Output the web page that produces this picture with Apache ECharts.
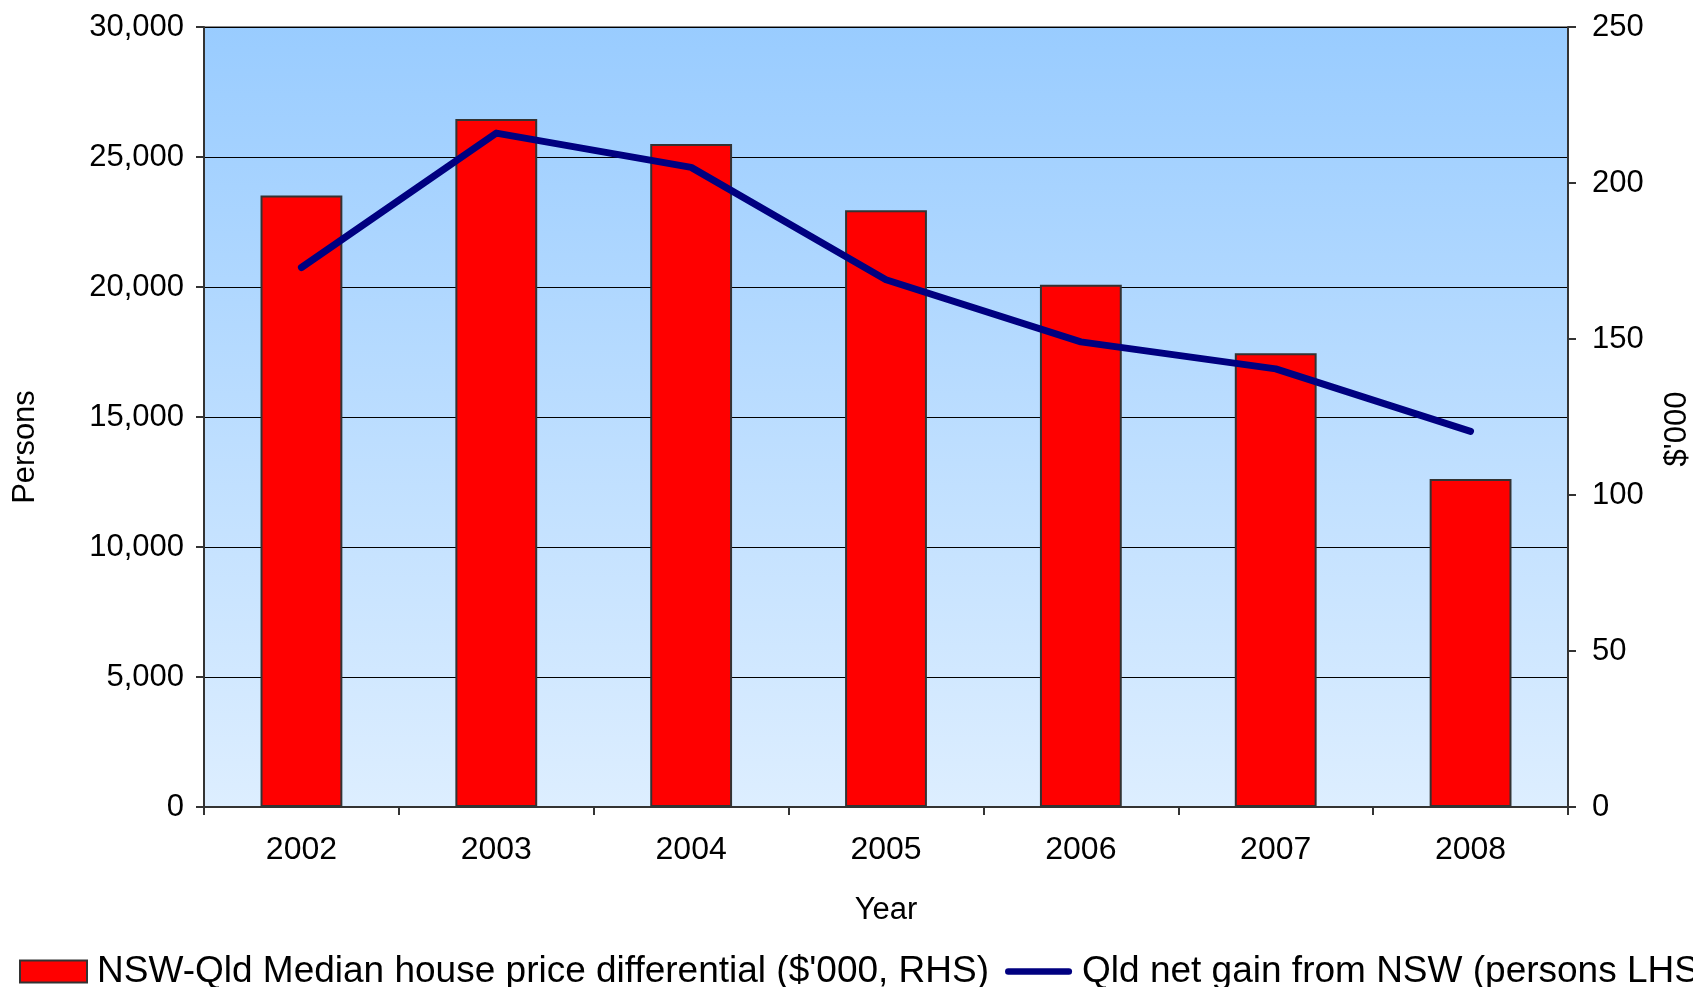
<!DOCTYPE html>
<html>
<head>
<meta charset="utf-8">
<script src="https://cdn.jsdelivr.net/npm/echarts@6/dist/echarts.min.js"></script>
<style>
  html, body { margin: 0; padding: 0; background: #fff; }
  #main { width: 1693px; height: 987px; }
</style>
</head>
<body>
<div id="main"></div>
<script>
// categories and values
const years = ['2002', '2003', '2004', '2005', '2006', '2007', '2008'];
// NSW-Qld median house price differential, $'000 (right axis)
const priceDiff = [196, 220.5, 212.5, 191.3, 167.4, 145.4, 105.1];
// Qld net gain from NSW, persons (left axis)
const netGain = [20750, 25920, 24600, 20280, 17890, 16850, 14450];

const chartDom = document.getElementById('main');
const myChart = echarts.init(chartDom);

const font = 'Liberation Sans, Arial, sans-serif';

const option = {
  animation: false,
  textStyle: { fontFamily: font },
  grid: {
    left: 204, right: 125, top: 27, bottom: 180,
    outerBoundsMode: 'none',
    containLabel: false,
    show: true,
    borderColor: '#8a8a8a',
    borderWidth: 2,
    backgroundColor: new echarts.graphic.LinearGradient(0, 0, 0, 1, [
      { offset: 0, color: '#99ccff' },
      { offset: 1, color: '#ddeeff' }
    ])
  },
  legend: {
    left: 14,
    top: 948,
    width: 3000,
    itemWidth: 67,
    itemHeight: 22,
    itemGap: 16,
    textStyle: { fontSize: 37, color: '#000', fontFamily: font, padding: [0, 0, 0, 5] },
    data: [
      { name: "NSW-Qld Median house price differential ($'000, RHS)", icon: 'rect' },
      {
        name: 'Qld net gain from NSW (persons LHS)',
        icon: 'path://M3.5,0 L69.5,0 A3.5,3.5 0 0 1 69.5,7 L3.5,7 A3.5,3.5 0 0 1 3.5,0 Z',
        itemStyle: { color: '#000080', borderWidth: 0 }
      }
    ]
  },
  xAxis: {
    type: 'category',
    data: years,
    name: 'Year',
    nameLocation: 'middle',
    nameGap: 88,
    nameTextStyle: { fontSize: 31, color: '#000' },
    axisLine: { lineStyle: { color: '#333', width: 2 } },
    axisTick: { show: true, length: 8, lineStyle: { color: '#333', width: 2 } },
    axisLabel: { fontSize: 32, color: '#000', margin: 27 }
  },
  yAxis: [
    {
      type: 'value',
      min: 0, max: 30000, interval: 5000,
      name: 'Persons',
      nameLocation: 'middle',
      nameGap: 163,
      nameTextStyle: { fontSize: 31, color: '#000', padding: [0, 60, 0, 0] },
      axisLine: { show: true, lineStyle: { color: '#333', width: 2 } },
      axisTick: { show: true, length: 8, lineStyle: { color: '#333', width: 2 } },
      axisLabel: {
        fontSize: 31, color: '#000', margin: 20,
        formatter: v => v.toLocaleString('en-US')
      },
      splitLine: { show: true, lineStyle: { color: '#000', width: 1 } }
    },
    {
      type: 'value',
      min: 0, max: 250, interval: 50,
      name: "$'000",
      nameLocation: 'middle',
      nameGap: 94,
      nameTextStyle: { fontSize: 31, color: '#000', padding: [0, 24, 0, 0] },
      axisLine: { show: true, lineStyle: { color: '#333', width: 2 } },
      axisTick: { show: true, length: 8, lineStyle: { color: '#333', width: 2 } },
      axisLabel: { fontSize: 31, color: '#000', margin: 24 },
      splitLine: { show: false }
    }
  ],
  series: [
    {
      name: "NSW-Qld Median house price differential ($'000, RHS)",
      type: 'bar',
      yAxisIndex: 1,
      data: priceDiff,
      barWidth: '42%',
      itemStyle: { color: '#ff0000', borderColor: '#333', borderWidth: 2 }
    },
    {
      name: 'Qld net gain from NSW (persons LHS)',
      type: 'line',
      yAxisIndex: 0,
      data: netGain,
      symbol: 'none',
      z: 5,
      lineStyle: { color: '#000080', width: 7, cap: 'round', join: 'round' },
      itemStyle: { color: '#000080' }
    }
  ]
};

option && myChart.setOption(option);
</script>
</body>
</html>
